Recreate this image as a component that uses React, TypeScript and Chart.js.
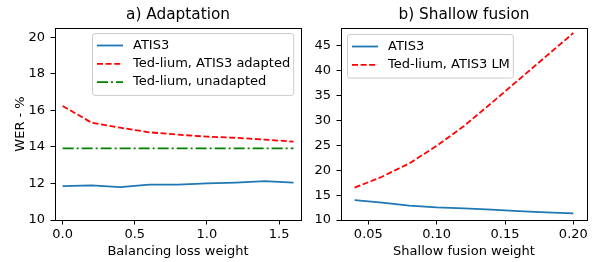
import React, { useEffect, useRef } from "react";
import { Chart, registerables } from "chart.js";

Chart.register(...registerables);

const FONT = "'DejaVu Sans', 'Liberation Sans', sans-serif";
const TEXT_SIZE = 13;
const TITLE_SIZE = 15.3;

// ---- a) Adaptation ----
const adaptTitle = "a) Adaptation";
const balancingWeights = [0, 0.2, 0.4, 0.6, 0.8, 1.0, 1.2, 1.4, 1.6];
const adaptAtis3 = [11.85, 11.9, 11.8, 11.94, 11.94, 12.0, 12.05, 12.13, 12.05];
const adaptTedAdapted = [16.24, 15.33, 15.05, 14.8, 14.67, 14.56, 14.5, 14.4, 14.29];
const adaptTedUnadapted = [13.92, 13.92, 13.92, 13.92, 13.92, 13.92, 13.92, 13.92, 13.92];
const adaptXTicks = [0, 0.5, 1.0, 1.5];
const adaptYTicks = [10, 12, 14, 16, 18, 20];

// ---- b) Shallow fusion ----
const fusionTitle = "b) Shallow fusion";
const fusionWeights = [0.04, 0.06, 0.08, 0.1, 0.12, 0.14, 0.16, 0.18, 0.2];
const fusionAtis3 = [14.0, 13.5, 12.9, 12.55, 12.35, 12.1, 11.8, 11.55, 11.35];
const fusionTedLM = [16.5, 18.7, 21.4, 24.9, 28.9, 33.5, 38.2, 42.9, 47.6];
const fusionXTicks = [0.05, 0.1, 0.15, 0.2];
const fusionYTicks = [10, 15, 20, 25, 30, 35, 40, 45];

const BLUE = "#1f77b4";
const RED = "#ff0000";
const GREEN = "#008000";

type Series = { label: string; values: number[]; color: string; dash: number[] };

type Params = {
  title: string;
  xs: number[];
  series: Series[];
  xMin: number;
  xMax: number;
  yMin: number;
  yMax: number;
  xTicks: number[];
  yTicks: number[];
  xDigits: number;
  xTitle: string;
  yTitle?: string;
  yWidth: number;
  padRight: number;
  legend: { x: number; y: number };
};

const framePlugin = {
  id: "frame",
  afterDatasetsDraw(chart: any) {
    const { ctx, chartArea } = chart;
    ctx.save();
    ctx.strokeStyle = "#000";
    ctx.lineWidth = 1;
    ctx.strokeRect(
      Math.round(chartArea.left) + 0.5,
      Math.round(chartArea.top) + 0.5,
      Math.round(chartArea.right - chartArea.left),
      Math.round(chartArea.bottom - chartArea.top)
    );
    ctx.restore();
  },
};

function makeLegendPlugin(pos: { x: number; y: number }) {
  return {
    id: "mplLegend",
    afterDraw(chart: any) {
      const ctx = chart.ctx as CanvasRenderingContext2D;
      const sets = chart.data.datasets;
      ctx.save();
      ctx.font = `${TEXT_SIZE}px ${FONT}`;
      let maxW = 0;
      sets.forEach((d: any) => {
        maxW = Math.max(maxW, ctx.measureText(d.label).width);
      });
      const rowH = 18.3;
      const w = 41 + maxW + 3;
      const h = sets.length * rowH + 7;
      ctx.beginPath();
      (ctx as any).roundRect(pos.x + 0.5, pos.y + 0.5, w, h, 2.5);
      ctx.fillStyle = "rgba(255,255,255,0.8)";
      ctx.fill();
      ctx.strokeStyle = "#cccccc";
      ctx.lineWidth = 1;
      ctx.stroke();
      sets.forEach((d: any, i: number) => {
        const cy = pos.y + 12.5 + i * rowH;
        ctx.beginPath();
        ctx.setLineDash(d.borderDash || []);
        ctx.strokeStyle = d.borderColor;
        ctx.lineWidth = d.borderWidth;
        ctx.moveTo(pos.x + 5, cy);
        ctx.lineTo(pos.x + 31, cy);
        ctx.stroke();
        ctx.setLineDash([]);
        ctx.fillStyle = "#000";
        ctx.textBaseline = "middle";
        ctx.textAlign = "left";
        ctx.fillText(d.label, pos.x + 41, cy);
      });
      ctx.restore();
    },
  };
}

function makeConfig(p: Params): any {
  const tickFont = { family: FONT, size: TEXT_SIZE };
  return {
    type: "line",
    data: {
      datasets: p.series.map((s) => ({
        label: s.label,
        data: p.xs.map((x, i) => ({ x, y: s.values[i] })),
        borderColor: s.color,
        backgroundColor: s.color,
        borderDash: s.dash,
        borderWidth: 1.8,
        pointRadius: 0,
        fill: false,
        tension: 0,
      })),
    },
    options: {
      responsive: false,
      animation: false,
      events: [],
      layout: { padding: { left: 0, right: p.padRight, top: 0, bottom: 0 } },
      plugins: {
        legend: { display: false },
        tooltip: { enabled: false },
        title: {
          display: true,
          text: p.title,
          fullSize: false,
          color: "#000",
          font: { family: FONT, size: TITLE_SIZE, weight: "normal", lineHeight: 1.2 },
          padding: { top: 5.6, bottom: 4 },
        },
      },
      scales: {
        x: {
          type: "linear",
          min: p.xMin,
          max: p.xMax,
          afterBuildTicks: (s: any) => {
            s.ticks = p.xTicks.map((v) => ({ value: v }));
          },
          afterFit: (s: any) => {
            s.height = 42;
          },
          ticks: {
            callback: (v: any) => Number(v).toFixed(p.xDigits),
            color: "#000",
            font: tickFont,
            padding: 2.5,
            maxRotation: 0,
            autoSkip: false,
          },
          grid: { drawOnChartArea: false, drawTicks: true, tickLength: 4.5, color: "#000", lineWidth: 1 },
          border: { display: false },
          title: {
            display: true,
            text: p.xTitle,
            color: "#000",
            font: { family: FONT, size: TEXT_SIZE, lineHeight: 1.2 },
            padding: { top: 0, bottom: 2.2 },
          },
        },
        y: {
          type: "linear",
          min: p.yMin,
          max: p.yMax,
          afterBuildTicks: (s: any) => {
            s.ticks = p.yTicks.map((v) => ({ value: v }));
          },
          afterFit: (s: any) => {
            s.width = p.yWidth;
          },
          ticks: {
            callback: (v: any) => String(v),
            color: "#000",
            font: tickFont,
            padding: 5.5,
            autoSkip: false,
          },
          grid: { drawOnChartArea: false, drawTicks: true, tickLength: 4.5, color: "#000", lineWidth: 1 },
          border: { display: false },
          title: {
            display: !!p.yTitle,
            text: p.yTitle || "",
            color: "#000",
            font: { family: FONT, size: TEXT_SIZE, lineHeight: 1.2 },
            padding: { top: 12.7, bottom: 0 },
          },
        },
      },
    },
    plugins: [framePlugin, makeLegendPlugin(p.legend)],
  };
}

function ChartCanvas({ params, left, width }: { params: Params; left: number; width: number }) {
  const ref = useRef<HTMLCanvasElement>(null);
  useEffect(() => {
    const chart = new Chart(ref.current as HTMLCanvasElement, makeConfig(params));
    return () => chart.destroy();
  }, []);
  return (
    <canvas
      ref={ref}
      width={width}
      height={262}
      style={{ position: "absolute", left, top: 0, width, height: 262 }}
    />
  );
}

const adaptParams: Params = {
  title: adaptTitle,
  xs: balancingWeights,
  series: [
    { label: "ATIS3", values: adaptAtis3, color: BLUE, dash: [] },
    { label: "Ted-lium, ATIS3 adapted", values: adaptTedAdapted, color: RED, dash: [6, 2.6] },
    { label: "Ted-lium, unadapted", values: adaptTedUnadapted, color: GREEN, dash: [11, 3, 2, 3] },
  ],
  xMin: -0.053,
  xMax: 1.652,
  yMin: 10,
  yMax: 20.51,
  xTicks: adaptXTicks,
  yTicks: adaptYTicks,
  xDigits: 1,
  xTitle: "Balancing loss weight",
  yTitle: "WER - %",
  yWidth: 55,
  padRight: 9,
  legend: { x: 92, y: 33 },
};

const fusionParams: Params = {
  title: fusionTitle,
  xs: fusionWeights,
  series: [
    { label: "ATIS3", values: fusionAtis3, color: BLUE, dash: [] },
    { label: "Ted-lium, ATIS3 LM", values: fusionTedLM, color: RED, dash: [6, 2.6] },
  ],
  xMin: 0.03,
  xMax: 0.21,
  yMin: 10,
  yMax: 48.62,
  xTicks: fusionXTicks,
  yTicks: fusionYTicks,
  xDigits: 2,
  xTitle: "Shallow fusion weight",
  yWidth: 31,
  padRight: 9,
  legend: { x: 37, y: 34 },
};

export default function App() {
  return (
    <div
      style={{
        position: "absolute",
        left: 0,
        top: 0,
        width: 596,
        height: 262,
        background: "#fff",
        overflow: "hidden",
      }}
    >
      <ChartCanvas params={adaptParams} left={0} width={310} />
      <ChartCanvas params={fusionParams} left={310} width={286} />
    </div>
  );
}
